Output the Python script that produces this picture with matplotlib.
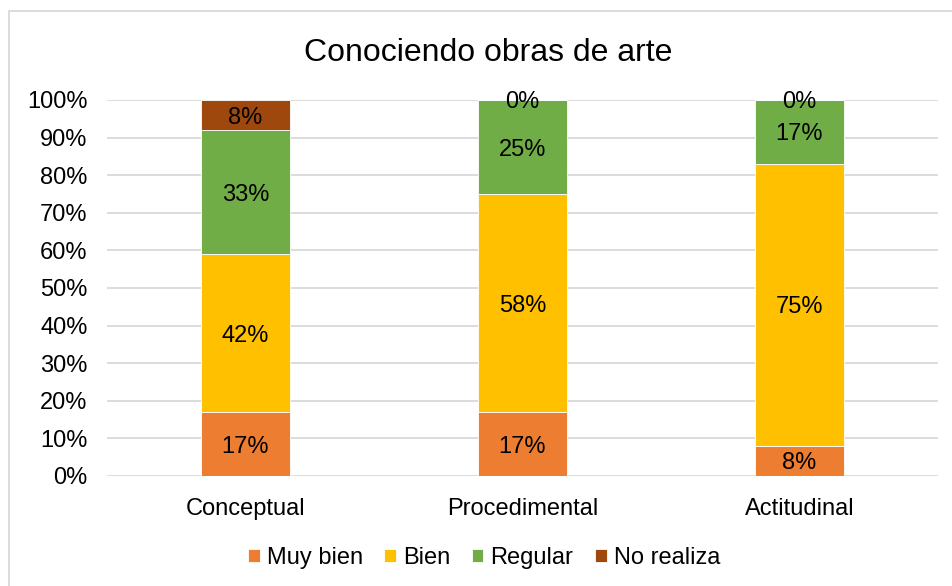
import numpy as np
import matplotlib.pyplot as plt
from matplotlib.patches import Rectangle

categories = ['Conceptual', 'Procedimental', 'Actitudinal']
series_names = ['Muy bien', 'Bien', 'Regular', 'No realiza']
muy_bien = [17, 17, 8]
bien = [42, 58, 75]
regular = [33, 25, 17]
no_realiza = [8, 0, 0]
series = [muy_bien, bien, regular, no_realiza]
colors = ['#ED7D31', '#FFC000', '#70AD47', '#9E480E']

plt.rcParams['font.family'] = ['Liberation Sans', 'DejaVu Sans']

fig = plt.figure(figsize=(9.53, 5.86), dpi=100)
ax = fig.add_axes([107 / 953, (586 - 476) / 586, (938 - 107) / 953, 376 / 586])

x = np.arange(len(categories))
bottom = np.zeros(len(categories))
for name, vals, col in zip(series_names, series, colors):
    vals = np.array(vals, dtype=float)
    ax.bar(x, vals, 0.318, bottom=bottom, color=col, label=name,
           edgecolor='white', linewidth=0.6, zorder=3)
    for xi, b, v in zip(x, bottom, vals):
        ax.text(xi, b + v / 2, f'{int(v)}%', ha='center', va='center_baseline',
                fontsize=17, color='black', zorder=4)
    bottom += vals

ax.set_xlim(-0.5, len(categories) - 0.5)
ax.set_ylim(0, 100)
ax.set_yticks(range(0, 101, 10))
ax.set_yticklabels([f'{v}%' for v in range(0, 101, 10)], fontsize=17)
ax.set_xticks(x)
ax.set_xticklabels(categories, fontsize=17)
ax.tick_params(length=0)
ax.tick_params(axis='y', pad=14)
ax.tick_params(axis='x', pad=16)
ax.grid(axis='y', color='#d9d9d9', linewidth=1.3, zorder=0)
for s in ax.spines.values():
    s.set_visible(False)

fig.text(488 / 953, 1 - 53 / 586, 'Conociendo obras de arte', ha='center',
         va='center', fontsize=23)

ax.legend(loc='center', bbox_to_anchor=(484 / 953, 1 - 558 / 586),
          bbox_transform=fig.transFigure, ncol=4, frameon=False, fontsize=17,
          handlelength=0.5, handleheight=0.5, handletextpad=0.3,
          columnspacing=0.9)

fig.patches.append(Rectangle((9 / 953, -0.05), 1.2, 1 - 11 / 586 + 0.05,
                             transform=fig.transFigure, fill=False,
                             edgecolor='#d9d9d9', linewidth=1.3))

fig.savefig('out.png', dpi=100)
